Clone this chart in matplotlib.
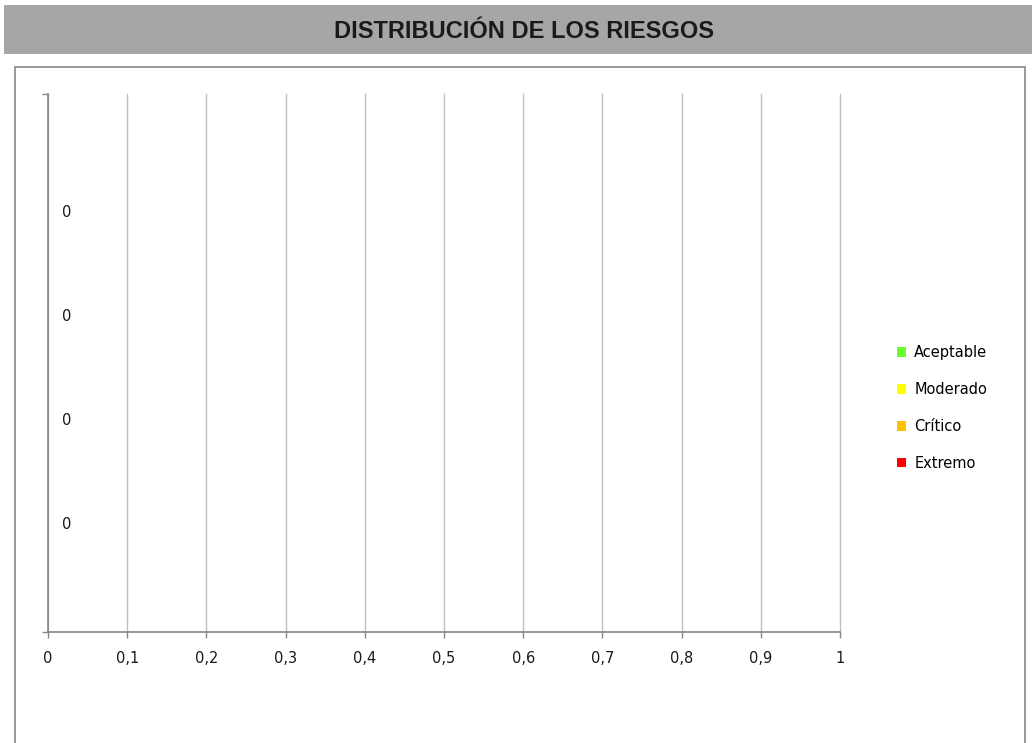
from matplotlib import pyplot as plt, patches
import numpy as np

TITLE = 'DISTRIBUCIÓN DE LOS RIESGOS'
SERIES = ['Aceptable', 'Moderado', 'Crítico', 'Extremo']
COLORS = ['#66ff33', '#ffff00', '#ffc000', '#ff0000']
VALUES = [0, 0, 0, 0]
X_TICKS = [0, 0.1, 0.2, 0.3, 0.4, 0.5, 0.6, 0.7, 0.8, 0.9, 1]

AXIS_GRAY = '#868686'
GRID_GRAY = '#c0c0c0'

plt.rcParams['font.family'] = ['DejaVu Sans']

fig = plt.figure(figsize=(10.32, 7.43), dpi=100)
W, H = 1032, 743

# gray title band
fig.patches.append(patches.Rectangle((4 / W, 1 - 54 / H), 1 - 4 / W, 49 / H,
                                     transform=fig.transFigure, facecolor='#a6a6a6',
                                     edgecolor='none', zorder=0))
fig.text(524 / W, 1 - 31 / H, TITLE, ha='center', va='center', family='Liberation Sans',
         fontsize=17, fontweight='bold', color='#1a1a1a')

# chart area border
fig.patches.append(patches.Rectangle((15 / W, -0.05), 1010 / W, 1 - 67 / H + 0.05,
                                     transform=fig.transFigure, facecolor='none',
                                     edgecolor=AXIS_GRAY, linewidth=1.2, zorder=0))

ax = fig.add_axes([48 / W, 1 - 632 / H, 792 / W, 538 / H])

# one category, four clustered series
n = len(SERIES)
group = 0.773
height = group / n
for i, (name, color, val) in enumerate(zip(SERIES, COLORS, VALUES)):
    y = 0.49 + (i - (n - 1) / 2) * height
    ax.barh(y, val, height=height, color=color, label=name)
    ax.annotate(f'{val}', (val, y), xytext=(10, 0), textcoords='offset points',
                ha='left', va='center', fontsize=10.5, color='#1a1a1a')

ax.set_xlim(0, 1)
ax.set_ylim(0, 1)
ax.set_xticks(X_TICKS)
ax.set_xticklabels([f'{t:g}'.replace('.', ',') for t in X_TICKS], fontsize=10.5, color='#1a1a1a')
ax.set_yticks([0, 1])
ax.set_yticklabels([])

ax.grid(True, axis='x', color=GRID_GRAY, linewidth=1)
for line in ax.get_xgridlines():
    line.set_clip_on(False)
ax.set_axisbelow(True)
for side in ['top', 'right']:
    ax.spines[side].set_visible(False)
for side in ['left', 'bottom']:
    ax.spines[side].set_color(AXIS_GRAY)
    ax.spines[side].set_linewidth(1.2)
ax.tick_params(axis='x', direction='out', length=4.5, width=1, color=AXIS_GRAY, pad=9.5)
ax.tick_params(axis='y', direction='out', length=4.5, width=1, color=AXIS_GRAY)

handles = [patches.Patch(facecolor=c, label=s) for s, c in zip(SERIES, COLORS)]
fig.legend(handles=handles, loc='center left', bbox_to_anchor=(884 / W, 1 - 408 / H),
           frameon=False, handlelength=0.62, handleheight=0.62,
           handletextpad=0.55, labelspacing=1.5,
           prop={'family': 'DejaVu Sans', 'size': 10.5})

fig.savefig('out.png', dpi=100, facecolor='white')
